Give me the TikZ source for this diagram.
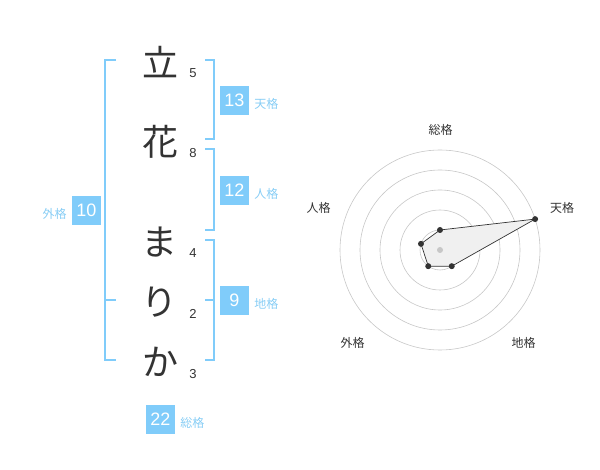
\documentclass[tikz,border=0pt]{standalone}
\usepackage{fontspec}
\setmainfont{Liberation Sans}
\newfontfamily\jp{Noto Sans CJK JP}
\usetikzlibrary{positioning}

\definecolor{kakublue}{RGB}{128,204,250}
\definecolor{kakutext}{RGB}{135,205,245}
\definecolor{inkgray}{RGB}{51,51,51}

\tikzset{
  moji/.style={font=\jp\fontsize{36}{36}\selectfont, text=inkgray, inner sep=0pt},
  kakusu/.style={font=\fontsize{13}{13}\selectfont, text=inkgray, inner sep=0pt},
  kakubox/.style={fill=kakublue, text=white, minimum size=29pt, inner sep=0pt, font=\fontsize{18}{18}\selectfont},
  kakuname/.style={font=\jp\fontsize{12}{12}\selectfont, text=kakutext, inner sep=0pt},
  axisname/.style={font=\jp\fontsize{12}{12}\selectfont, text=inkgray, inner sep=0pt},
  bracket/.style={draw=kakublue, line width=2pt},
  ring/.style={draw=black!22, line width=0.6pt},
  dot/.style={fill=inkgray}
}

\begin{document}
\begin{tikzpicture}[x=1pt,y=-1pt]
\useasboundingbox (0,0) rectangle (600,470);

\node[moji] (c1) at (160,62) {立};
\node[moji] (c2) at (160,142) {花};
\node[moji] (c3) at (159,242) {ま};
\node[moji] (c4) at (159,302) {り};
\node[moji] (c5) at (160,362) {か};

\node[kakusu] (n1) at (193,73) {5};
\node[kakusu] (n2) at (193,153) {8};
\node[kakusu] (n3) at (193,253) {4};
\node[kakusu] (n4) at (193,314) {2};
\node[kakusu] (n5) at (193,374) {3};

\draw[bracket] (116,60) -| (105,360) -- (116,360);
\draw[bracket] (105,300) -- (116,300);
\draw[bracket] (205,60) -| (214,139) -- (205,139);
\draw[bracket] (205,149) -| (214,230) -- (205,230);
\draw[bracket] (205,240) -| (214,360) -- (205,360);
\draw[bracket] (205,300) -- (214,300);

\node[kakubox] (ten) at (234.5,100.5) {13};
\node[kakuname, right=5pt of ten, yshift=-3pt] (tenname) {天格};
\node[kakubox] (jin) at (234.5,190.5) {12};
\node[kakuname, right=5pt of jin, yshift=-3pt] (jinname) {人格};
\node[kakubox] (chi) at (234.5,300.5) {9};
\node[kakuname, right=5pt of chi, yshift=-3pt] (chiname) {地格};
\node[kakubox] (gai) at (86.5,210.5) {10};
\node[kakuname, left=5pt of gai, yshift=-3pt] (gainame) {外格};
\node[kakubox] (sou) at (160.5,419.5) {22};
\node[kakuname, right=5pt of sou, yshift=-3pt] (souname) {総格};

\coordinate (O) at (440,250);
\foreach \r in {20,40,...,100}
  \draw[ring] (O) circle[radius=\r];
\path (O) ++(-90:20) coordinate (pSou);
\path (O) ++(-18:100) coordinate (pTen);
\path (O) ++(54:20) coordinate (pChi);
\path (O) ++(126:20) coordinate (pGai);
\path (O) ++(198:20) coordinate (pJin);
\filldraw[fill=black!6, draw=inkgray, line width=0.7pt]
  (pSou) -- (pTen) -- (pChi) -- (pGai) -- (pJin) -- cycle;
\fill[black!22] (O) circle[radius=3];
\foreach \p in {pSou,pTen,pChi,pGai,pJin}
  \fill[dot] (\p) circle[radius=3];

\node[axisname] (lSou) at (440.5,130) {総格};
\node[axisname] (lTen) at (562,208) {天格};
\node[axisname] (lJin) at (318.5,208) {人格};
\node[axisname] (lGai) at (352.5,342.5) {外格};
\node[axisname] (lChi) at (523.5,342.5) {地格};
\end{tikzpicture}
\end{document}
